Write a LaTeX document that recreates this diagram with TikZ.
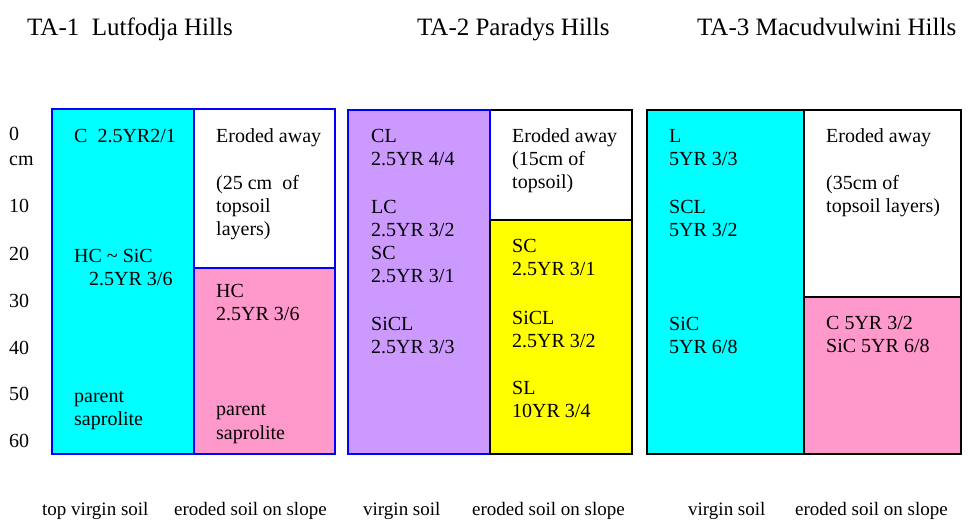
\documentclass[tikz,border=0pt]{standalone}
\usepackage{fontspec}
\setmainfont{Liberation Serif}
\definecolor{soilcyan}{HTML}{00FFFF}
\definecolor{soilpink}{HTML}{FF99CC}
\definecolor{soilpurple}{HTML}{CC99FF}
\definecolor{soilyellow}{HTML}{FFFF00}
\definecolor{edgeblue}{HTML}{0000FF}
\tikzset{
  txt/.style={inner sep=0pt, anchor=base west, font=\fontsize{20}{23}\selectfont},
  ttl/.style={inner sep=0pt, anchor=base west, font=\fontsize{25}{28}\selectfont},
  captxt/.style={inner sep=0pt, anchor=base west, font=\fontsize{19}{22}\selectfont},
  boxb/.style={draw=edgeblue, line width=2pt},
  boxk/.style={draw=black, line width=2pt},
}
\begin{document}
\begin{tikzpicture}[x=1pt,y=-1pt]
\useasboundingbox (0,0) rectangle (971,520);
% titles
\node[ttl] (t1) at (27,35) {TA-1\ \ Lutfodja Hills};
\node[ttl] (t2) at (417,35) {TA-2 Paradys Hills};
\node[ttl] (t3) at (697,35) {TA-3 Macudvulwini Hills};
% depth scale
\node[txt] (d0) at (9,140) {0};
\node[txt] (dcm) at (9,165) {cm};
\node[txt] (d10) at (9,212) {10};
\node[txt] (d20) at (9,260) {20};
\node[txt] (d30) at (9,307) {30};
\node[txt] (d40) at (9,354) {40};
\node[txt] (d50) at (9,400) {50};
\node[txt] (d60) at (9,447) {60};
% panel 1
\fill[soilcyan] (52,109) rectangle (194,454);
\fill[white] (194,109) rectangle (335,268);
\fill[soilpink] (194,268) rectangle (335,454);
\draw[boxb] (52,109) rectangle (194,454);
\draw[boxb] (194,109) rectangle (335,268);
\draw[boxb] (194,268) rectangle (335,454);
\node[txt] (a1) at (74,142) {C\ \ 2.5YR2/1};
\node[txt] (a2) at (74,262) {HC \textasciitilde{} SiC};
\node[txt] (a3) at (89,285) {2.5YR 3/6};
\node[txt] (a4) at (74,402) {parent};
\node[txt] (a5) at (74,425) {saprolite};
\node[txt] (b1) at (216,142) {Eroded away};
\node[txt] (b2) at (216,189) {(25 cm\ \ of};
\node[txt] (b3) at (216,212) {topsoil};
\node[txt] (b4) at (216,235) {layers)};
\node[txt] (b5) at (216,297) {HC};
\node[txt] (b6) at (216,320) {2.5YR 3/6};
\node[txt] (b7) at (216,415) {parent};
\node[txt] (b8) at (216,439) {saprolite};
% panel 2
\fill[soilpurple] (348,110) rectangle (490,454);
\fill[white] (490,110) rectangle (632,220);
\fill[soilyellow] (490,220) rectangle (632,454);
\draw[boxk] (490,110) rectangle (632,220);
\draw[boxb] (348,110) rectangle (490,454);
\draw[boxk] (490,220) rectangle (632,454);
\node[txt] (c1) at (371,142) {CL};
\node[txt] (c2) at (371,165) {2.5YR 4/4};
\node[txt] (c3) at (371,213) {LC};
\node[txt] (c4) at (371,236) {2.5YR 3/2};
\node[txt] (c5) at (371,259) {SC};
\node[txt] (c6) at (371,282) {2.5YR 3/1};
\node[txt] (c7) at (371,330) {SiCL};
\node[txt] (c8) at (371,353) {2.5YR 3/3};
\node[txt] (e1) at (512,142) {Eroded away};
\node[txt] (e2) at (512,165) {(15cm of};
\node[txt] (e3) at (512,188) {topsoil)};
\node[txt] (e4) at (512,252) {SC};
\node[txt] (e5) at (512,275) {2.5YR 3/1};
\node[txt] (e6) at (512,324) {SiCL};
\node[txt] (e7) at (512,347) {2.5YR 3/2};
\node[txt] (e8) at (512,394) {SL};
\node[txt] (e9) at (512,417) {10YR 3/4};
% panel 3
\fill[soilcyan] (647,110) rectangle (804,454);
\fill[white] (804,110) rectangle (961,297);
\fill[soilpink] (804,297) rectangle (961,454);
\draw[boxk] (647,110) rectangle (804,454);
\draw[boxk] (804,110) rectangle (961,297);
\draw[boxk] (804,297) rectangle (961,454);
\node[txt] (f1) at (669,142) {L};
\node[txt] (f2) at (669,165) {5YR 3/3};
\node[txt] (f3) at (669,213) {SCL};
\node[txt] (f4) at (669,236) {5YR 3/2};
\node[txt] (f5) at (669,330) {SiC};
\node[txt] (f6) at (669,353) {5YR 6/8};
\node[txt] (g1) at (826,142) {Eroded away};
\node[txt] (g2) at (826,189) {(35cm of};
\node[txt] (g3) at (826,212) {topsoil layers)};
\node[txt] (g4) at (826,329) {C 5YR 3/2};
\node[txt] (g5) at (826,352) {SiC 5YR 6/8};
% bottom captions
\node[captxt] (s1) at (42,515) {top virgin soil};
\node[captxt] (s2) at (174,515) {eroded soil on slope};
\node[captxt] (s3) at (363,515) {virgin soil};
\node[captxt] (s4) at (472,515) {eroded soil on slope};
\node[captxt] (s5) at (688,515) {virgin soil};
\node[captxt] (s6) at (795,515) {eroded soil on slope};
\end{tikzpicture}
\end{document}
